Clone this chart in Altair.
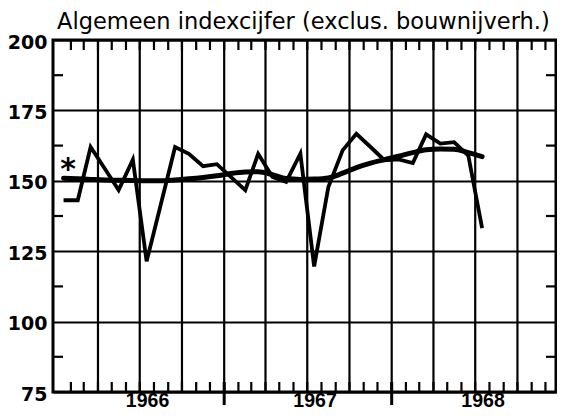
import altair as alt
import pandas as pd

# ---------------- data ----------------
months = [
    "1966-01", "1966-02", "1966-03", "1966-04", "1966-05", "1966-06",
    "1966-07", "1966-08", "1966-09", "1966-10", "1966-11", "1966-12",
    "1967-01", "1967-02", "1967-03", "1967-04", "1967-05", "1967-06",
    "1967-07", "1967-08", "1967-09", "1967-10", "1967-11", "1967-12",
    "1968-01", "1968-02", "1968-03", "1968-04", "1968-05", "1968-06",
    "1968-07",
]
index_raw = [
    143.1, 143.1, 162.0, 154.3, 146.7, 157.5, 121.4, 141.7, 162.0, 159.6, 155.2, 155.9,
    151.3, 146.7, 159.6, 151.4, 149.6, 159.6, 119.6, 147.8, 160.8, 166.7, 162.0, 157.3,
    157.6, 156.3, 166.5, 163.2, 163.7, 158.9, 133.2,
]
index_trend = [
    150.9, 150.7, 150.5, 150.3, 150.2, 150.1, 150.0, 150.0, 150.3, 150.7, 151.2, 151.8,
    152.6, 153.1, 153.2, 152.2, 150.8, 150.5, 150.6, 151.0, 152.7, 154.7, 156.3, 157.5,
    158.7, 160.0, 161.0, 161.3, 161.2, 160.0, 158.6,
]
year_labels = ["1966", "1967", "1968"]
y_labels = [75, 100, 125, 150, 175, 200]
y_minor = [87.5, 112.5, 137.5, 162.5, 187.5]
title_text = "Algemeen indexcijfer (exclus. bouwnijverh.)"
marker_text = "*"
marker_month = "1966-01-26"
marker_value = 156.3

# ---------------- tables ----------------
series = pd.DataFrame({
    "date": [m + "-16" for m in months],
    "raw": index_raw,
    "trend": index_trend,
})
all_months = [f"{y}-{m:02d}-01" for y in (1966, 1967, 1968) for m in range(1, 13)]
month_ticks = pd.DataFrame({"date": all_months[1:]})
quarter_lines = pd.DataFrame({"date": [d for d in all_months[1:] if int(d[5:7]) in (1, 4, 7, 10)]})
year_ticks = pd.DataFrame({"date": ["1967-01-01", "1968-01-01"]})
years = pd.DataFrame({"date": [y + "-07-18" for y in year_labels], "label": year_labels})
minor = pd.DataFrame({"v": y_minor})
marker = pd.DataFrame({"date": [marker_month], "v": [marker_value], "t": [marker_text]})
title_df = pd.DataFrame({"t": [title_text]})

W, H = 503, 352
xs = alt.Scale(type="utc", domain=[
    alt.DateTime(year=1965, month=12, date=24, utc=True),
    alt.DateTime(year=1968, month=12, date=24, utc=True),
])
ys = alt.Scale(domain=[75, 200], nice=False, zero=False)
yaxis = alt.Axis(values=y_labels, grid=True, gridColor="black", gridWidth=2.2, gridOpacity=1,
                 ticks=False, domain=False, labelFont="DejaVu Sans", labelFontWeight="bold",
                 labelFontSize=19, labelColor="black", labelPadding=6, labelOffset=2, title=None)

X = alt.X("date:T", scale=xs, axis=None)

grid_q = alt.Chart(quarter_lines).mark_rule(color="black", strokeWidth=2.2).encode(
    x=X, y=alt.value(0), y2=alt.value(H))
tick_top = alt.Chart(month_ticks).mark_rule(color="black", strokeWidth=2.2).encode(
    x=X, y=alt.value(0), y2=alt.value(10))
tick_bot = alt.Chart(month_ticks).mark_rule(color="black", strokeWidth=2.2).encode(
    x=X, y=alt.value(H - 10), y2=alt.value(H))
tick_year = alt.Chart(year_ticks).mark_rule(color="black", strokeWidth=3).encode(
    x=X, y=alt.value(H - 10), y2=alt.value(H + 13))
minor_l = alt.Chart(minor).mark_rule(color="black", strokeWidth=2.2).encode(
    y=alt.Y("v:Q", scale=ys, axis=yaxis), x=alt.value(0), x2=alt.value(10))
minor_r = alt.Chart(minor).mark_rule(color="black", strokeWidth=2.2).encode(
    y=alt.Y("v:Q", scale=ys, axis=yaxis), x=alt.value(W - 10), x2=alt.value(W))

trend = alt.Chart(series).mark_line(color="black", strokeWidth=5, interpolate="monotone",
                                   strokeCap="round").encode(
    x=X, y=alt.Y("trend:Q", scale=ys, axis=yaxis))
raw = alt.Chart(series).mark_line(color="black", strokeWidth=3.8, strokeJoin="miter",
                                 strokeCap="butt").encode(
    x=X, y=alt.Y("raw:Q", scale=ys, axis=yaxis))
star = alt.Chart(marker).mark_text(font="DejaVu Sans", fontWeight="bold", fontSize=30,
                                   baseline="middle", align="center", dy=7, color="black").encode(
    x=X, y=alt.Y("v:Q", scale=ys, axis=yaxis), text="t:N")
year_txt = alt.Chart(years).mark_text(font="Liberation Sans", fontWeight="bold", fontSize=19.5,
                                      baseline="alphabetic", align="center", color="black").encode(
    x=X, y=alt.value(H + 15), text="label:N")
title = alt.Chart(title_df).mark_text(font="DejaVu Sans", fontSize=22.5, fontWeight="normal",
                                      baseline="alphabetic", align="left", color="black").encode(
    x=alt.value(4), y=alt.value(-11), text="t:N")

chart = alt.layer(
    grid_q, tick_top, tick_bot, tick_year, minor_l, minor_r, trend, raw, star, year_txt, title
).properties(
    width=W, height=H,
    autosize=alt.AutoSizeParams(type="none"),
    padding={"left": 45, "top": 32, "right": 1, "bottom": 19},
    background="white",
).configure_view(stroke="black", strokeWidth=3)

chart.save("out.html", embed_options={"renderer": "svg", "actions": False})
